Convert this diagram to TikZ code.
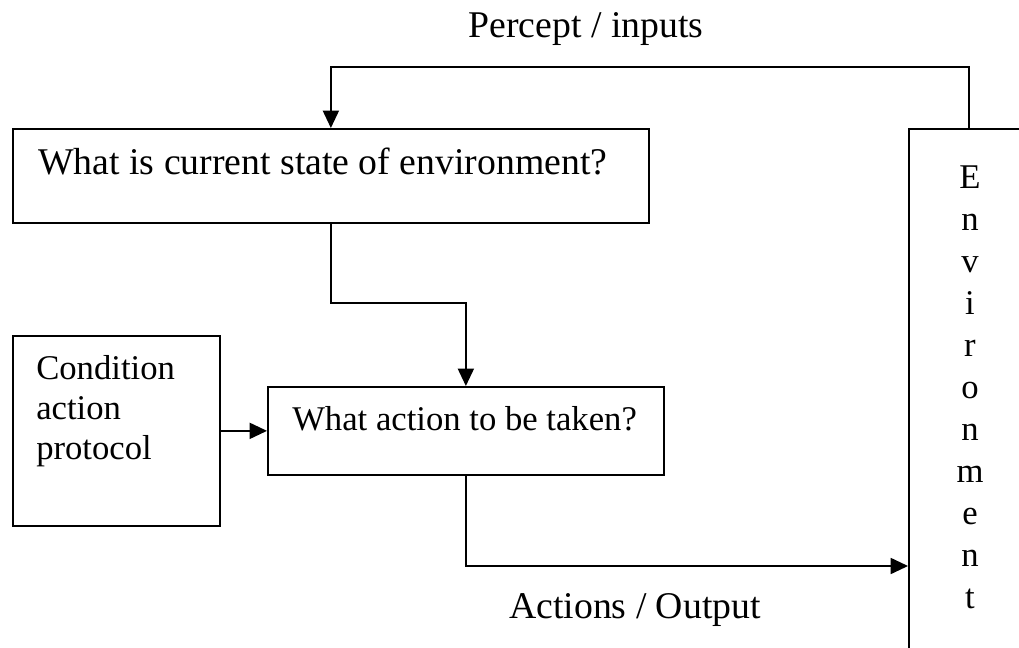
\documentclass[tikz,border=0pt]{standalone}
\usepackage{fontspec}
\setmainfont{Liberation Serif}
\usetikzlibrary{arrows.meta}
\begin{document}
\begin{tikzpicture}[x=0.75pt,y=-0.75pt,
  box/.style={draw,line width=1.3pt,rectangle,inner sep=0pt,anchor=north west},
  txt/.style={anchor=base west,inner sep=0pt,font=\fontsize{26}{30}\selectfont},
  bigtxt/.style={txt,font=\fontsize{28.3}{32}\selectfont},
  arr/.style={line width=1.3pt,-{Triangle[length=13pt,width=12pt]}}]
\useasboundingbox (0,0) rectangle (1019,648);
\clip (0,0) rectangle (1019,648);

% boxes
\node[box,minimum width=477pt,minimum height=70.5pt] (top) at (12,128) {};
\node[box,minimum width=155.25pt,minimum height=142.5pt] (cond) at (12,335) {};
\node[box,minimum width=297pt,minimum height=66pt] (act) at (267,386) {};
\node[box,minimum width=99pt,minimum height=414pt] (env) at (908,128) {};
\coordinate (envtop) at (969,128);

% texts
\node[bigtxt] (toptxt) at (38,175) {What is current state of environment?};
\node[txt,align=left,anchor=north west] (condtxt) at (36,355) {Condition\\action\\protocol};
\node[txt] (acttxt) at (292,430) {What action to be taken?};
\node[txt,align=center,anchor=north,font=\fontsize{26}{31.5}\selectfont] (envtxt) at (970,166)
  {E\\n\\v\\i\\r\\o\\n\\m\\e\\n\\t};
\node[bigtxt,anchor=base] (percept) at (586,38) {Percept / inputs};
\node[bigtxt,anchor=base] (output) at (635,618) {Actions / Output};

% connectors
\draw[arr] (envtop) -- (envtop |- 0,67) -| (top.north);
\draw[arr] (top.south) -- (top.south |- 0,303) -| (act.north);
\draw[arr] (cond.east) -- (act.west);
\draw[arr] (act.south) |- (env.west |- 0,566);
\end{tikzpicture}
\end{document}
